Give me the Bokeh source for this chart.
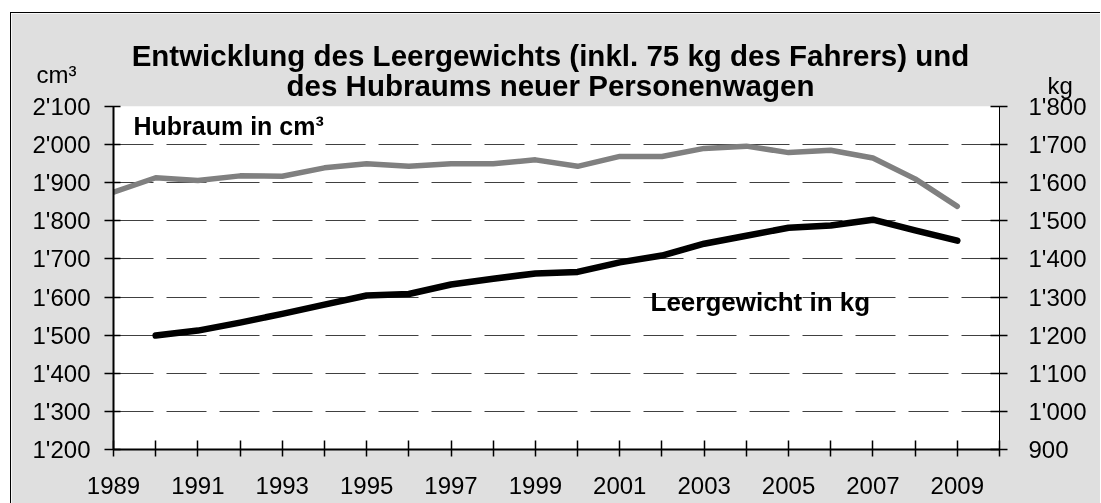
from bokeh.plotting import figure
from bokeh.models import Range1d, LinearAxis, FixedTicker, Label
from bokeh.embed import file_html
from bokeh.resources import INLINE

# ---------------- data ----------------
years_hub = [1989, 1990, 1991, 1992, 1993, 1994, 1995, 1996, 1997, 1998, 1999,
             2000, 2001, 2002, 2003, 2004, 2005, 2006, 2007, 2008, 2009]
hubraum = [1875, 1913, 1906, 1918, 1917, 1939, 1950, 1943, 1950, 1950, 1960,
           1943, 1969, 1969, 1990, 1996, 1979, 1985, 1965, 1910, 1838]

years_kg = [1990, 1991, 1992, 1993, 1994, 1995, 1996, 1997, 1998, 1999,
            2000, 2001, 2002, 2003, 2004, 2005, 2006, 2007, 2008, 2009]
leergewicht = [1199, 1212, 1233, 1256, 1280, 1304, 1308, 1333, 1348, 1362,
               1366, 1391, 1409, 1440, 1461, 1482, 1488, 1503, 1475, 1448]

x_ticks = list(range(1989, 2011))
x_labels = ["1989", "", "1991", "", "1993", "", "1995", "", "1997", "", "1999", "",
            "2001", "", "2003", "", "2005", "", "2007", "", "2009", ""]
left_ticks = [1200, 1300, 1400, 1500, 1600, 1700, 1800, 1900, 2000, 2100]
left_labels = ["1'200", "1'300", "1'400", "1'500", "1'600", "1'700", "1'800",
               "1'900", "2'000", "2'100"]
right_ticks = [900, 1000, 1100, 1200, 1300, 1400, 1500, 1600, 1700, 1800]
right_labels = ["900", "1'000", "1'100", "1'200", "1'300", "1'400", "1'500",
                "1'600", "1'700", "1'800"]

title_lines = ["Entwicklung des Leergewichts (inkl. 75 kg des Fahrers) und",
               "des Hubraums neuer Personenwagen"]
left_unit = "cm³"
right_unit = "kg"
hub_label = "Hubraum in cm³"
kg_label = "Leergewicht in kg"

# ---------------- figure ----------------
FONT = "Liberation Sans"
BG = "#dfdfdf"

# canvas at page (11, 13); plot frame x 113..999, y 106..449.
# The chart area continues below the window edge (as in the cropped original).
p = figure(width=1090, height=686, x_range=Range1d(1989, 2010), y_range=Range1d(1200, 2100),
           output_backend="svg", toolbar_location=None,
           min_border_left=102, min_border_right=102, min_border_top=93, min_border_bottom=250,
           x_axis_location=None, y_axis_location=None)
p.styles = {"position": "fixed", "left": "10px", "top": "12px",
            "border-left": "1px solid black", "border-top": "1px solid black"}
p.border_fill_color = BG
p.background_fill_color = "white"
p.outline_line_color = None
p.extra_y_ranges = {"kg": Range1d(900, 1800)}

xaxis = LinearAxis(ticker=FixedTicker(ticks=x_ticks),
                   major_label_overrides={t: l for t, l in zip(x_ticks, x_labels)})
yaxis = LinearAxis(ticker=FixedTicker(ticks=left_ticks),
                   major_label_overrides={t: l for t, l in zip(left_ticks, left_labels)})
raxis = LinearAxis(y_range_name="kg", ticker=FixedTicker(ticks=right_ticks),
                   major_label_overrides={t: l for t, l in zip(right_ticks, right_labels)})

for ax in (xaxis, yaxis, raxis):
    ax.major_label_text_font = FONT
    ax.major_label_text_font_size = "24px"
    ax.major_label_text_color = "black"
    ax.axis_line_color = "black"
    ax.major_tick_line_color = "black"
    ax.major_tick_line_width = 1.5
    ax.minor_tick_line_color = None

xaxis.axis_line_width = 2
xaxis.major_tick_in = 9
xaxis.major_tick_out = 7
xaxis.major_label_standoff = 20

yaxis.axis_line_width = 2
yaxis.major_tick_in = 7
yaxis.major_tick_out = 9
yaxis.major_label_standoff = 14

raxis.axis_line_width = 1
raxis.major_tick_in = 9
raxis.major_tick_out = 8
raxis.major_label_standoff = 21

p.add_layout(xaxis, "below")
p.add_layout(yaxis, "left")
p.add_layout(raxis, "right")

p.xgrid.visible = False
p.ygrid.ticker = FixedTicker(ticks=left_ticks)
p.ygrid.grid_line_color = "#404040"
p.ygrid.grid_line_width = 1
p.ygrid.grid_line_dash = "40 13"

p.line(years_hub, hubraum, line_color="#808080", line_width=5.5,
       line_join="round", line_cap="round")
p.line(years_kg, leergewicht, line_color="black", line_width=6.5,
       line_join="round", line_cap="round", y_range_name="kg")

# page pixel -> data coordinates (frame spans x 113..999, y 106..449 on the page)
def dx(px):
    return 1989 + (px - 113) * 21 / 886

def dy(py):
    return 2100 - (py - 106) * 900 / 343

RAISE = 8  # rendered baseline sits a little lower than requested

def lab(text, px, py, size, bold=False, align="left", place="center"):
    label = Label(x=dx(px), y=dy(py - RAISE), text=text, text_font=FONT,
                  text_font_size=size, text_font_style="bold" if bold else "normal",
                  text_align=align, text_baseline="alphabetic", text_color="black")
    if place == "center":
        p.add_layout(label)
    else:
        p.add_layout(label, place)

# texts outside the frame live in a side panel (below, which has spare room) so they
# are not clipped; their data coordinates still map through the frame's scales
lab(title_lines[0], 550, 63, "29.5px", bold=True, align="center", place="below")
lab(title_lines[1], 550, 93, "29.5px", bold=True, align="center", place="below")
lab(left_unit, 36, 82, "24px", place="below")
lab(right_unit, 1047, 93, "24px", place="below")
lab(hub_label, 133, 133, "25px", bold=True)
lab(kg_label, 650, 309, "26px", bold=True)

open("out.html", "w").write(file_html(p, INLINE))
